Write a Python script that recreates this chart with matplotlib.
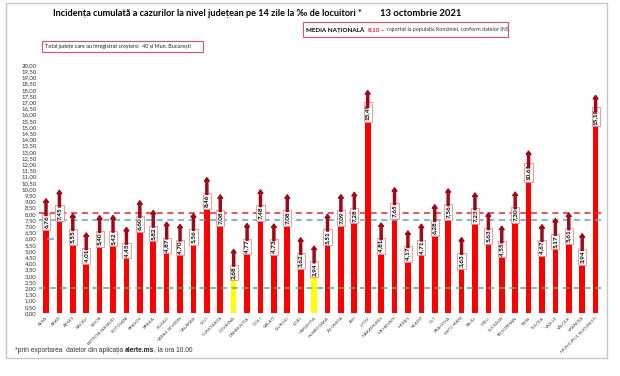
import matplotlib
matplotlib.use("Agg")
import matplotlib.pyplot as plt
from matplotlib.patches import Rectangle

judete = ["ALBA", "ARAD", "ARGEȘ", "BACĂU", "BIHOR", "BISTRIȚA-NĂSĂUD", "BOTOȘANI",
          "BRAȘOV", "BRĂILA", "BUZĂU", "CARAȘ-SEVERIN", "CĂLĂRAȘI", "CLUJ", "CONSTANȚA",
          "COVASNA", "DÂMBOVIȚA", "DOLJ", "GALAȚI", "GIURGIU", "GORJ", "HARGHITA",
          "HUNEDOARA", "IALOMIȚA", "IAȘI", "ILFOV", "MARAMUREȘ", "MEHEDINȚI", "MUREȘ",
          "NEAMȚ", "OLT", "PRAHOVA", "SATU MARE", "SĂLAJ", "SIBIU", "SUCEAVA",
          "TELEORMAN", "TIMIȘ", "TULCEA", "VASLUI", "VÂLCEA", "VRANCEA",
          "MUNICIPIUL BUCUREȘTI"]
incidenta = [6.76, 7.45, 5.55, 4.01, 5.40, 5.42, 4.45, 6.60, 5.82, 4.87, 4.70, 5.56,
             8.46, 7.08, 2.68, 4.77, 7.48, 4.73, 7.08, 3.62, 2.94, 5.51, 7.09, 7.28,
             15.49, 4.81, 7.65, 4.17, 4.71, 6.28, 7.56, 3.63, 7.23, 5.63, 4.55, 7.30,
             10.61, 4.67, 5.17, 5.61, 3.94, 15.10]
media_nationala = 8.10
prag_albastru = 7.50
prag_verde = 2.00

W, H = 620, 376
fig = plt.figure(figsize=(W / 100, H / 100), dpi=100)
fig.patch.set_facecolor("white")

def px(x, y):
    return x / W, 1 - y / H

def chain(x, y, parts):
    # place text pieces one after another on the same line
    r = fig.canvas.get_renderer()
    for s, kw in parts:
        t = fig.text(*px(x, y), s, ha="left", va="center", **kw)
        x += t.get_window_extent(r).width

# outer frame
fig.patches.append(Rectangle(px(6, 358), 601 / W, 355 / H, transform=fig.transFigure,
                             fill=False, ec="#c8c8c8", lw=1.0))

ax = fig.add_axes([39.3 / W, 63 / H, 563 / W, 248 / H])
n = len(judete)
xs = list(range(n))
culori = ["#FFFF00" if v < 3 else "#FF0000" for v in incidenta]
ax.bar(xs, incidenta, width=0.42, color=culori, zorder=2)

ax.axhline(media_nationala, color="#E8262A", lw=1.1, ls=(0, (4, 3)), zorder=3)
ax.axhline(prag_albastru, color="#5AA5D6", lw=1.1, ls=(0, (4, 3)), zorder=3)
ax.axhline(prag_verde, color="#47B881", lw=1.1, ls=(0, (4, 3)), zorder=3)
ax.plot([0.15, 0.5], [6.0, 6.0], color="#5AA5D6", lw=1.1, zorder=3)

for i, v in enumerate(incidenta):
    ax.text(i, v + 0.08, f"{v:.2f}".replace(".", ","), rotation=90, ha="center",
            va="bottom", fontsize=4.6, fontweight="bold", family="Lato", zorder=5,
            bbox=dict(boxstyle="square,pad=0.25", fc="white", ec="#F08888", lw=0.6))
    ax.annotate("", xy=(i, v + 2.45), xytext=(i, v + 1.1),
                arrowprops=dict(arrowstyle="simple,head_length=0.5,head_width=0.7,tail_width=0.3",
                                color="#A00A16", mutation_scale=5, shrinkA=0, shrinkB=0),
                zorder=6)

ax.set_xlim(-0.5, n - 0.5)
ax.set_ylim(0, 20)
ax.set_yticks([k * 0.5 for k in range(41)])
ax.set_yticklabels([f"{k * 0.5:.2f}".replace(".", ",") for k in range(41)],
                   fontsize=4.3, family="Lato", color="#333333")
ax.set_xticks(xs)
ax.set_xticklabels(judete, rotation=45, ha="right", rotation_mode="anchor",
                   fontsize=3.2, family="Lato", color="#444444")
ax.tick_params(length=0, pad=2)
for s in ax.spines.values():
    s.set_visible(False)

# header
fig.text(*px(53, 14), "Incidența cumulată a cazurilor la nivel județean pe 14 zile la ‰ de locuitori *",
         ha="left", va="center", fontsize=6.6, fontweight="bold", family="Lato")
fig.text(*px(380, 14), "13 octombrie 2021", ha="left", va="center", fontsize=6.8,
         fontweight="bold", family="Lato")

fig.patches.append(Rectangle(px(303, 37), 205 / W, 15 / H, transform=fig.transFigure,
                             fill=False, ec="#E05060", lw=0.8))
bold = dict(fontsize=4.5, fontweight="bold", family="Lato")
chain(306, 30, [("MEDIA NAȚIONALĂ  ", bold),
                ("8,10", dict(bold, color="#E8262A")),
                (" -  ", bold),
                ("raportat la populația României, conform datelor INS",
                 dict(fontsize=3.9, family="Lato", color="#333333"))])

fig.patches.append(Rectangle(px(42, 52), 161 / W, 11 / H, transform=fig.transFigure,
                             fill=False, ec="#E05060", lw=0.8))
fig.text(*px(45, 46.5), "Total județe care au înregistrat creștere:  40 și Mun. București",
         ha="left", va="center", fontsize=3.9, family="Lato", color="#222222")

foot = dict(fontsize=4.8, family="Liberation Sans", color="#333333")
chain(15, 350, [("*prin exportarea  datelor din aplicația ", foot),
                ("alerte.ms", dict(foot, fontweight="bold", color="#222222")),
                (", la ora 10.00", foot)])

fig.savefig("out.png", dpi=100)
